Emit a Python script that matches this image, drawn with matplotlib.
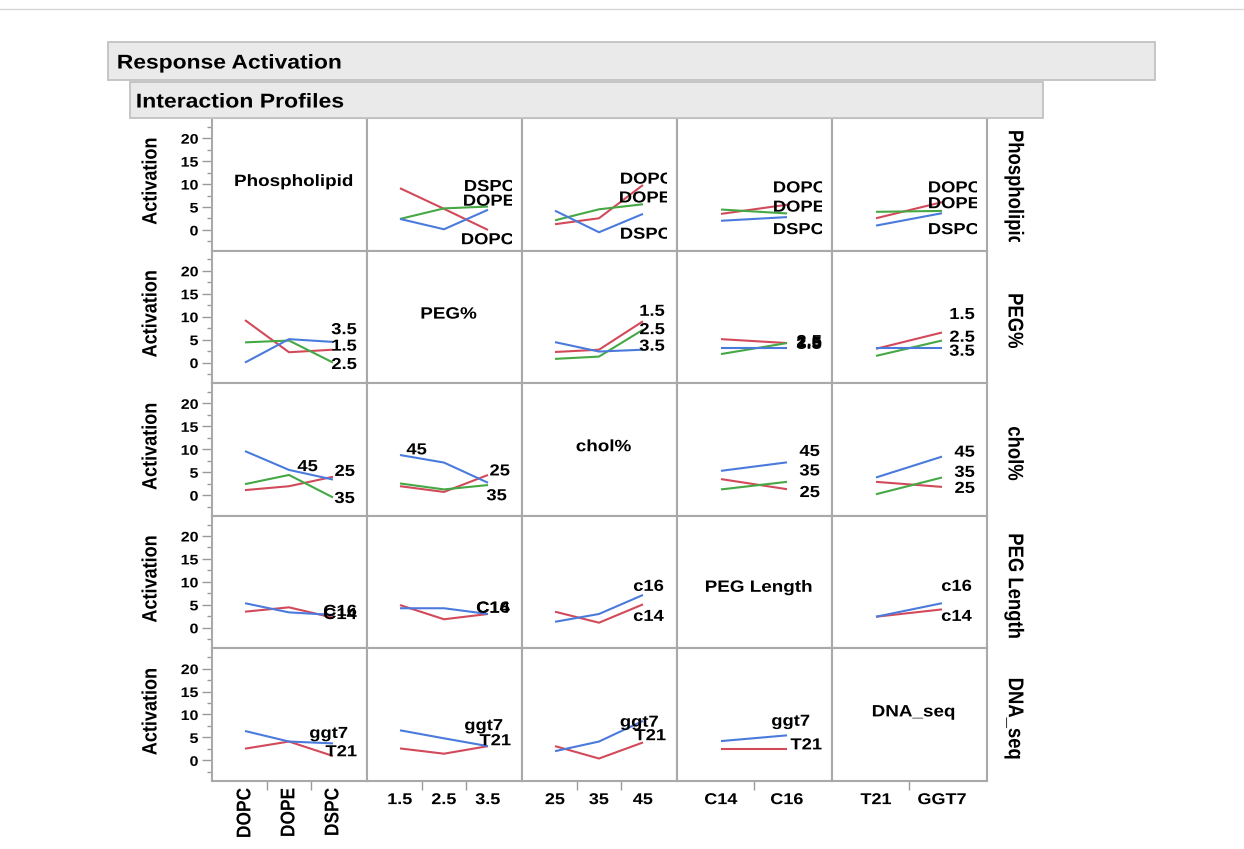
import matplotlib
matplotlib.use("Agg")
import matplotlib.pyplot as plt
import matplotlib.patheffects as pe
from matplotlib.patches import Rectangle
from matplotlib.lines import Line2D
from matplotlib.text import Text
from matplotlib.transforms import Affine2D, Bbox, TransformedBbox, blended_transform_factory
from matplotlib.ticker import FixedLocator, FixedFormatter, NullLocator

# ---------------- data ----------------
factor_names = ["Phospholipid", "PEG%", "chol%", "PEG Length", "DNA_seq"]
axis_levels = [["DOPC", "DOPE", "DSPC"], ["1.5", "2.5", "3.5"], ["25", "35", "45"],
               ["C14", "C16"], ["T21", "GGT7"]]

# row: Phospholipid traces (DOPC, DOPE, DSPC)
phos_traces = {
    "PEG%": [[9.1, 4.6, 0.0], [2.4, 4.7, 5.1], [2.4, 0.15, 4.4]],
    "chol%": [[1.25, 2.55, 9.8], [2.1, 4.5, 5.6], [4.2, -0.5, 3.5]],
    "PEG Length": [[3.5, 5.5], [4.45, 3.6], [2.0, 2.8]],
    "DNA_seq": [[2.55, 6.05], [3.95, 4.15], [0.95, 3.65]],
}
# row: PEG% traces (1.5, 2.5, 3.5)
peg_traces = {
    "Phospholipid": [[9.25, 2.25, 2.8], [4.4, 4.8, 0.0], [0.0, 5.1, 4.5]],
    "chol%": [[2.3, 2.8, 9.0], [0.8, 1.3, 7.15], [4.45, 2.4, 2.8]],
    "PEG Length": [[5.1, 4.25], [1.85, 4.25], [3.15, 3.15]],
    "DNA_seq": [[3.0, 6.55], [1.45, 4.8], [3.15, 3.15]],
}
# row: chol% traces (25, 35, 45)
chol_traces = {
    "Phospholipid": [[1.1, 1.95, 4.0], [2.4, 4.4, -0.5], [9.6, 5.5, 3.4]],
    "PEG%": [[1.95, 0.7, 4.4], [2.55, 1.25, 2.2], [8.75, 7.1, 2.7]],
    "PEG Length": [[3.5, 1.3], [1.25, 2.9], [5.3, 7.15]],
    "DNA_seq": [[2.9, 1.8], [0.2, 3.85], [3.85, 8.4]],
}
# row: PEG Length traces (C14, C16)
peglen_traces = {
    "Phospholipid": [[3.5, 4.45, 2.2], [5.35, 3.35, 2.8]],
    "PEG%": [[4.95, 1.85, 3.0], [4.25, 4.25, 3.0]],
    "chol%": [[3.5, 1.1, 5.1], [1.3, 3.0, 7.15]],
    "DNA_seq": [[2.4, 4.0], [2.4, 5.35]],
}
# row: DNA_seq traces (T21, ggt7)
dna_traces = {
    "Phospholipid": [[2.55, 4.1, 0.95], [6.4, 4.1, 3.7]],
    "PEG%": [[2.6, 1.45, 3.1], [6.55, 4.8, 3.1]],
    "chol%": [[3.1, 0.4, 3.9], [2.0, 4.1, 8.6]],
    "PEG Length": [[2.4, 2.4], [4.2, 5.45]],
}
row_traces = [phos_traces, peg_traces, chol_traces, peglen_traces, dna_traces]

# trace labels: (text, y value, px from panel right, alignment)
label_layout = {
    (0, 1): [("DSPC", 9.8, 58, "left"), ("DOPE", 6.6, 59, "left"), ("DOPC", -1.8, 61, "left")],
    (0, 2): [("DOPC", 11.4, 57, "left"), ("DOPE", 7.3, 58, "left"), ("DSPC", -0.6, 57, "left")],
    (0, 3): [("DOPC", 9.5, 59, "left"), ("DOPE", 5.3, 59, "left"), ("DSPC", 0.4, 59, "left")],
    (0, 4): [("DOPC", 9.5, 59, "left"), ("DOPE", 6.05, 59, "left"), ("DSPC", 0.4, 59, "left")],
    (1, 0): [("3.5", 7.5, 10, "right"), ("1.5", 3.9, 10, "right"), ("2.5", -0.1, 10, "right")],
    (1, 2): [("1.5", 11.5, 12, "right"), ("2.5", 7.5, 12, "right"), ("3.5", 3.9, 12, "right")],
    (1, 3): [("1.5", 4.6, 10, "right"), ("2.5", 4.9, 10, "right"), ("3.5", 4.3, 10, "right")],
    (1, 4): [("1.5", 10.8, 12, "right"), ("2.5", 5.85, 12, "right"), ("3.5", 2.8, 12, "right")],
    (2, 0): [("45", 6.55, 49, "right"), ("25", 5.5, 12, "right"), ("35", -0.4, 12, "right")],
    (2, 1): [("45", 10.2, 95, "right"), ("25", 5.6, 12, "right"), ("35", 0.2, 15, "right")],
    (2, 3): [("45", 9.85, 12, "right"), ("35", 5.6, 12, "right"), ("25", 0.9, 12, "right")],
    (2, 4): [("45", 9.7, 12, "right"), ("35", 5.3, 12, "right"), ("25", 1.8, 12, "right")],
    (3, 0): [("C16", 3.9, 10, "right"), ("C14", 3.2, 10, "right")],
    (3, 1): [("C16", 4.6, 12, "right"), ("C14", 4.6, 12, "right")],
    (3, 2): [("c16", 9.35, 13, "right"), ("c14", 2.8, 13, "right")],
    (3, 4): [("c16", 9.35, 15, "right"), ("c14", 2.8, 15, "right")],
    (4, 0): [("ggt7", 6.2, 19, "right"), ("T21", 2.2, 10, "right")],
    (4, 1): [("ggt7", 7.9, 19, "right"), ("T21", 4.6, 11, "right")],
    (4, 2): [("ggt7", 8.65, 57, "left"), ("T21", 5.7, 11, "right")],
    (4, 3): [("ggt7", 8.85, 22, "right"), ("T21", 3.7, 10, "right")],
}

# ---------------- style ----------------
W, H = 1244, 849
RED, GREEN, BLUE = "#d24a5a", "#45a845", "#4a7bdc"
FRAME = "#a9a9a9"
STRETCH = 1.15
plt.rcParams["font.family"] = ["Liberation Sans", "DejaVu Sans"]
plt.rcParams["font.weight"] = "bold"

fig = plt.figure(figsize=(W / 100, H / 100), dpi=100)


def fx(x):
    return x / W


def fy(y):
    return 1 - y / H


class HStretch(pe.AbstractPathEffect):
    def __init__(self, sx, pivot):
        super().__init__()
        self.sx = sx
        self.pivot = pivot

    def draw_path(self, renderer, gc, tpath, affine, rgbFace=None):
        bb = tpath.get_extents(affine)
        if self.pivot == "left":
            px = bb.x0
        elif self.pivot == "right":
            px = bb.x1
        else:
            px = 0.5 * (bb.x0 + bb.x1)
        t = affine + Affine2D().translate(-px, 0).scale(self.sx, 1).translate(px, 0)
        renderer.draw_path(gc, tpath, t, rgbFace)


def fig_clip(x0, y0, x1, y1):
    return TransformedBbox(Bbox.from_extents(fx(x0), fy(y1), fx(x1), fy(y0)), fig.transFigure)


# top hairline
fig.add_artist(Line2D([0, 1], [fy(9), fy(9)], transform=fig.transFigure, color="#d8d8d8", lw=1))

# header boxes
fig.add_artist(Rectangle((fx(108), fy(80)), fx(1155) - fx(108), 38 / H, transform=fig.transFigure,
                         facecolor="#eaeaea", edgecolor="#c2c2c2", lw=1.3))
fig.text(fx(117), fy(61), "Response Activation", ha="left", va="center_baseline", fontsize=14.3)
fig.add_artist(Rectangle((fx(130), fy(118)), fx(1043) - fx(130), 36 / H, transform=fig.transFigure,
                         facecolor="#eaeaea", edgecolor="#c2c2c2", lw=1.3))
fig.text(fx(136), fy(100), "Interaction Profiles", ha="left", va="center_baseline", fontsize=14.4)

col_left = [212, 367, 522, 677, 832]
CW = 155
RH = 132.6
row_top = [118 + i * RH for i in range(5)]

for r in range(5):
    T = row_top[r]
    for c in range(5):
        L = col_left[c]
        ax = fig.add_axes([fx(L), fy(T + RH), CW / W, RH / H])
        n = len(axis_levels[c])
        if n == 3:
            ax.set_xlim(-0.75, 2.773)
        else:
            ax.set_xlim(-0.667, 1.682)
        ax.set_ylim(-4.5, 24.4)
        for s in ax.spines.values():
            s.set_color(FRAME)
            s.set_linewidth(1.5)

        if c == 0:
            ax.yaxis.set_major_locator(FixedLocator([0, 5, 10, 15, 20]))
            ax.yaxis.set_minor_locator(FixedLocator([-2.5, 2.5, 7.5, 12.5, 17.5, 22.5]))
            ax.tick_params(axis="y", which="major", length=7.2, width=1, color="#9a9a9a",
                           pad=2.6, labelsize=10)
            ax.tick_params(axis="y", which="minor", length=3.6, width=1, color="#9a9a9a")
        else:
            ax.yaxis.set_major_locator(NullLocator())
            ax.yaxis.set_minor_locator(NullLocator())

        if r == 4:
            ax.xaxis.set_major_locator(FixedLocator(list(range(n))))
            ax.xaxis.set_major_formatter(FixedFormatter(axis_levels[c]))
            ax.xaxis.set_minor_locator(FixedLocator([i + 0.5 for i in range(n - 1)]))
            if c == 0:
                ax.tick_params(axis="x", which="major", length=0, pad=5.0, labelsize=12.5,
                               labelrotation=90)
            else:
                ax.tick_params(axis="x", which="major", length=0, pad=8.0, labelsize=11.3)
            ax.tick_params(axis="x", which="minor", length=6.5, width=1, color="#9a9a9a")
        else:
            ax.xaxis.set_major_locator(NullLocator())
            ax.xaxis.set_minor_locator(NullLocator())

        if r == c:
            yoff = 70 if r == 3 else 62
            ax.text(0.5 + 4 / CW, 1 - yoff / RH, factor_names[r], transform=ax.transAxes,
                    ha="center", va="center_baseline", fontsize=11.8)
            continue

        series = row_traces[r][factor_names[c]]
        colors = [RED, GREEN, BLUE] if len(series) == 3 else [RED, BLUE]
        for vals, col in zip(series, colors):
            ax.plot(range(n), vals, color=col, lw=1.5, solid_capstyle="butt", zorder=2)

        btr = blended_transform_factory(ax.transAxes, ax.transData)
        for text, yv, xr, ha in label_layout[(r, c)]:
            t = ax.text((CW - xr) / CW, yv, text, transform=btr, ha=ha, va="center_baseline",
                        fontsize=11.5, zorder=3)
            t.set_clip_on(True)
            t.set_clip_box(fig_clip(L, T, L + CW - 10, T + RH))

    # y axis title
    fig.text(fx(151), fy(T + RH / 2 - 3), "Activation", rotation=90, ha="center", va="center",
             fontsize=13)
    # right strip label
    st = fig.text(fx(1014), fy(T + RH / 2 + 4), factor_names[r], rotation=-90, ha="center",
                  va="center", fontsize=13.3)
    st.set_clip_on(True)
    st.set_clip_box(fig_clip(990, T + 2, 1045, T + RH - 9))

fig.canvas.draw()
for t in fig.findobj(Text):
    if t.get_text():
        t.set_path_effects([HStretch(STRETCH, t.get_ha())])

fig.savefig("out.png", dpi=100, facecolor="white")
